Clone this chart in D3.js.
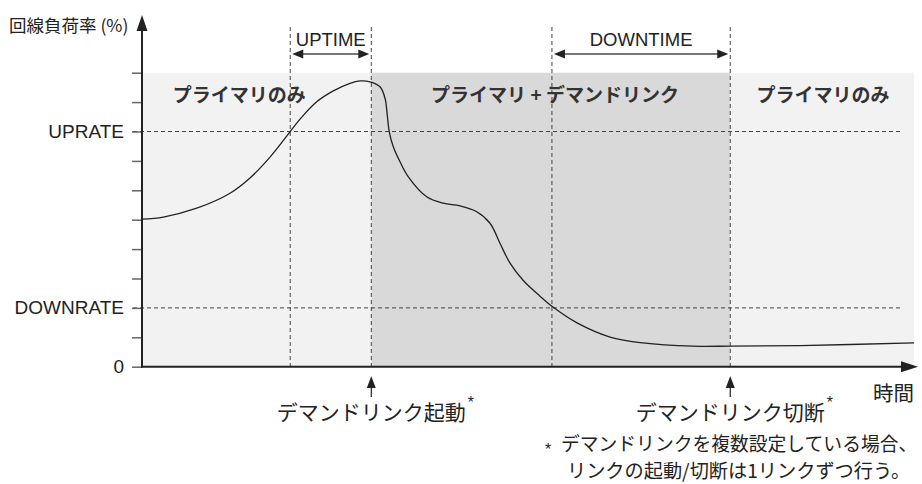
<!DOCTYPE html>
<html>
<head>
<meta charset="utf-8">
<script src="https://cdn.jsdelivr.net/npm/d3@7"></script>
<style>
  body { margin: 0; background: #fff; }
  svg { display: block; }
  .jp { font-family: "Noto Sans CJK JP", "Noto Sans", sans-serif; fill: #222; }
  .lat { font-family: "Liberation Sans", Arial, sans-serif; fill: #222; }
</style>
</head>
<body>
<svg id="chart"></svg>
<script>
// time (0-100) vs line load (0-10 tick units)
var curveT = [0, 2.76, 7.09, 11.4, 13.99, 16.58, 19.17, 20.47, 22.63, 24.78, 26.94, 28.24, 29.53, 30.83, 31.48, 31.77, 32.03, 32.55, 33.42, 34.5, 36.88, 39.03, 41.19, 43.36, 45.08, 46.37, 47.67, 49.39, 51.55, 53.28, 56.35, 60.62, 64.9, 71.37, 76.17, 85.23, 100];
var curveV = [5.02, 5.09, 5.39, 5.90, 6.42, 7.13, 7.99, 8.42, 9.01, 9.38, 9.64, 9.72, 9.69, 9.52, 9.13, 8.56, 7.99, 7.48, 6.97, 6.46, 5.78, 5.56, 5.47, 5.27, 4.88, 4.20, 3.52, 2.93, 2.40, 2.02, 1.49, 1.01, 0.81, 0.70, 0.70, 0.72, 0.81];

var yTicks = [0, 1, 2, 3, 4, 5, 6, 7, 8, 9, 10];
var yTickLabels = { 0: '0', 2: 'DOWNRATE', 8: 'UPRATE' };
var upRate = 8, downRate = 2;

var eventTimes = [19.2, 29.7, 53.1, 76.2];   // up start, link start, down start, link stop
var regionEdges = [0, 29.7, 76.2, 100];
var regionLabels = ['プライマリのみ', 'プライマリ + デマンドリンク', 'プライマリのみ'];
var regionLabelT = [12.6, 53.5, 88.2];

var W = 922, H = 484;
var svg = d3.select('#chart').attr('width', W).attr('height', H);

var x = d3.scaleLinear().domain([0, 100]).range([142, 914]);
var y = d3.scaleLinear().domain([0, 10]).range([366.7, 72.7]);

// shaded regions
var regionFill = ['#f2f2f2', '#d9d9d9', '#f2f2f2'];
svg.selectAll('rect.region').data(regionLabels).enter().append('rect')
    .attr('class', 'region')
    .attr('x', function (d, i) { return x(regionEdges[i]); })
    .attr('width', function (d, i) { return x(regionEdges[i + 1]) - x(regionEdges[i]); })
    .attr('y', y(10))
    .attr('height', y(0) - y(10))
    .attr('fill', function (d, i) { return regionFill[i]; });

// rate lines
svg.selectAll('line.rate').data([upRate, downRate]).enter().append('line')
    .attr('x1', 133).attr('x2', 900)
    .attr('y1', function (d) { return y(d); }).attr('y2', function (d) { return y(d); })
    .attr('stroke', '#444').attr('stroke-width', 1).attr('stroke-dasharray', '4,3');

// event lines
svg.selectAll('line.evt').data(eventTimes).enter().append('line')
    .attr('x1', function (d) { return x(d); }).attr('x2', function (d) { return x(d); })
    .attr('y1', 27).attr('y2', y(0))
    .attr('stroke', '#444').attr('stroke-width', 1).attr('stroke-dasharray', '4,3');

// region labels
svg.selectAll('text.reg').data(regionLabels).enter().append('text')
    .attr('class', 'jp')
    .attr('x', function (d, i) { return x(regionLabelT[i]); })
    .attr('y', 102)
    .attr('text-anchor', 'middle')
    .attr('font-size', 19).attr('font-weight', 'bold')
    .style('fill', '#333')
    .text(function (d) { return d; });

// y axis ticks via d3 axis
var yAxis = d3.axisLeft(y).tickValues(yTicks).tickSize(10).tickPadding(8)
    .tickFormat(function (d) { return yTickLabels[d] || ''; });
var gy = svg.append('g').attr('transform', 'translate(142,0)').call(yAxis);
gy.select('.domain').remove();
gy.selectAll('.tick line').attr('stroke', '#666').attr('stroke-width', 1.5);
gy.selectAll('.tick text').attr('class', 'lat').attr('font-size', 19).style('fill', '#222');

// curve
var line = d3.line()
    .x(function (d, i) { return x(curveT[i]); })
    .y(function (d) { return y(d); })
    .curve(d3.curveCatmullRom.alpha(0.5));
svg.append('path').datum(curveV)
    .attr('d', line)
    .attr('fill', 'none').attr('stroke', '#222').attr('stroke-width', 1.3);

// axes with arrows
svg.append('line').attr('x1', 142).attr('x2', 142).attr('y1', y(0) + 1).attr('y2', 28)
    .attr('stroke', '#222').attr('stroke-width', 2);
svg.append('path').attr('d', 'M142,15 L136.5,31 L147.5,31 Z').attr('fill', '#222');
svg.append('line').attr('x1', 141).attr('x2', 905).attr('y1', y(0)).attr('y2', y(0))
    .attr('stroke', '#222').attr('stroke-width', 2);
svg.append('path').attr('d', 'M918,' + y(0) + ' L901,' + (y(0) - 5.5) + ' L901,' + (y(0) + 5.5) + ' Z').attr('fill', '#222');

svg.append('text').attr('class', 'jp').attr('x', 9).attr('y', 32)
    .attr('font-size', 17.5).text('回線負荷率 (%)');
svg.append('text').attr('class', 'jp').attr('x', 914).attr('y', 401)
    .attr('text-anchor', 'end').attr('font-size', 20.5).text('時間');

// UPTIME / DOWNTIME spans
var spans = [[eventTimes[0], eventTimes[1], 'UPTIME'], [eventTimes[2], eventTimes[3], 'DOWNTIME']];
spans.forEach(function (s) {
    var a = x(s[0]) + 2, b = x(s[1]) - 2, yy = 54;
    svg.append('line').attr('x1', a + 8).attr('x2', b - 8).attr('y1', yy).attr('y2', yy)
        .attr('stroke', '#777').attr('stroke-width', 2);
    svg.append('path').attr('d', 'M' + a + ',' + yy + ' L' + (a + 11) + ',' + (yy - 4.5) + ' L' + (a + 11) + ',' + (yy + 4.5) + ' Z').attr('fill', '#222');
    svg.append('path').attr('d', 'M' + b + ',' + yy + ' L' + (b - 11) + ',' + (yy - 4.5) + ' L' + (b - 11) + ',' + (yy + 4.5) + ' Z').attr('fill', '#222');
    svg.append('text').attr('class', 'lat').attr('x', (x(s[0]) + x(s[1])) / 2).attr('y', 46)
        .attr('text-anchor', 'middle').attr('font-size', 18.5).text(s[2]);
});

// link start / stop markers
var marks = [[eventTimes[1], 'デマンドリンク起動'], [eventTimes[3], 'デマンドリンク切断']];
marks.forEach(function (m) {
    var xx = x(m[0]);
    svg.append('line').attr('x1', xx).attr('x2', xx).attr('y1', 397).attr('y2', 385)
        .attr('stroke', '#222').attr('stroke-width', 1.2);
    svg.append('path').attr('d', 'M' + xx + ',376 L' + (xx - 4.5) + ',388 L' + (xx + 4.5) + ',388 Z').attr('fill', '#222');
    var t = svg.append('text').attr('class', 'jp').attr('x', xx).attr('y', 420)
        .attr('text-anchor', 'middle').attr('font-size', 21).text(m[1]);
    var bb = t.node().getBBox();
    svg.append('text').attr('class', 'lat').attr('x', bb.x + bb.width + 2).attr('y', 408)
        .attr('font-size', 16).text('*');
});

// footnote
svg.append('text').attr('class', 'lat').attr('x', 545).attr('y', 455).attr('font-size', 16).text('*');
svg.append('text').attr('class', 'jp').attr('x', 561).attr('y', 451).attr('font-size', 18.8)
    .text('デマンドリンクを複数設定している場合、');
svg.append('text').attr('class', 'jp').attr('x', 567).attr('y', 478).attr('font-size', 19.2)
    .text('リンクの起動/切断は1リンクずつ行う。');
</script>
</body>
</html>
